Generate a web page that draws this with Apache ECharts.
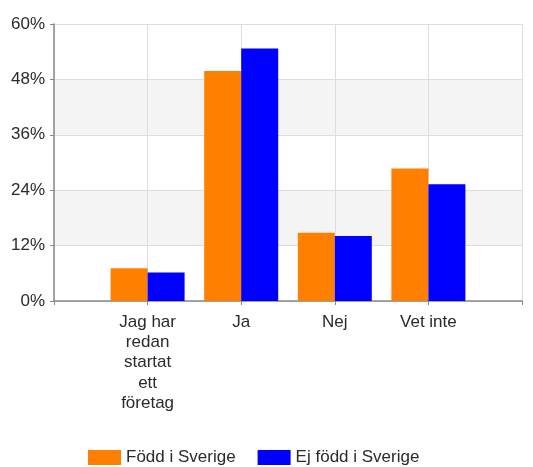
<!DOCTYPE html>
<html><head><meta charset="utf-8">
<script src="https://cdn.jsdelivr.net/npm/echarts@6/dist/echarts.min.js"></script>
<style>html,body{margin:0;padding:0;background:#fff}#c{width:533px;height:467px}</style>
</head><body><div id="c"></div>
<script>
const categories = ['', 'Jag har\nredan\nstartat\nett\nföretag', 'Ja', 'Nej', 'Vet inte', ''];
const seriesNames = ['Född i Sverige', 'Ej född i Sverige'];
const fodd = [null, 7.1, 49.8, 14.8, 28.7, null];
const ejFodd = [null, 6.2, 54.7, 14.1, 25.3, null];
const colors = ['#ff7f00', '#0000ff'];

const chart = echarts.init(document.getElementById('c'));
chart.setOption({
  animation: false,
  textStyle: { fontFamily: 'Liberation Sans, Arial, sans-serif' },
  grid: { left: 54, right: 11, top: 24, bottom: 166 },
  legend: {
    top: 444, left: 83,
    itemWidth: 33, itemHeight: 15, itemGap: 22,
    icon: 'rect',
    textStyle: { fontSize: 17, color: '#2a2a2a', fontFamily: 'Liberation Sans, Arial, sans-serif' },
    data: seriesNames
  },
  xAxis: {
    type: 'category', data: categories, boundaryGap: false,
    axisLine: { lineStyle: { color: '#888', width: 1.5 } },
    axisTick: { show: true, length: 4, lineStyle: { color: '#888' } },
    axisLabel: { interval: 0, fontSize: 17, color: '#2a2a2a', lineHeight: 20.3, margin: 11 },
    splitLine: { show: true, lineStyle: { color: '#dddddd' } }
  },
  yAxis: {
    type: 'value', min: 0, max: 60, interval: 12,
    axisLine: { show: true, lineStyle: { color: '#888', width: 1.5 } },
    axisTick: { show: true, length: 4, lineStyle: { color: '#888' } },
    axisLabel: { formatter: '{value}%', fontSize: 17, color: '#2a2a2a', margin: 9 },
    splitLine: { lineStyle: { color: '#dddddd' } },
    splitArea: { show: true, areaStyle: { color: ['#ffffff', '#f4f4f4'] } }
  },
  series: [
    { name: seriesNames[0], type: 'bar', data: fodd, barWidth: 37, barGap: '0%', itemStyle: { color: colors[0] } },
    { name: seriesNames[1], type: 'bar', data: ejFodd, barWidth: 37, barGap: '0%', itemStyle: { color: colors[1] } }
  ]
});
</script></body></html>
